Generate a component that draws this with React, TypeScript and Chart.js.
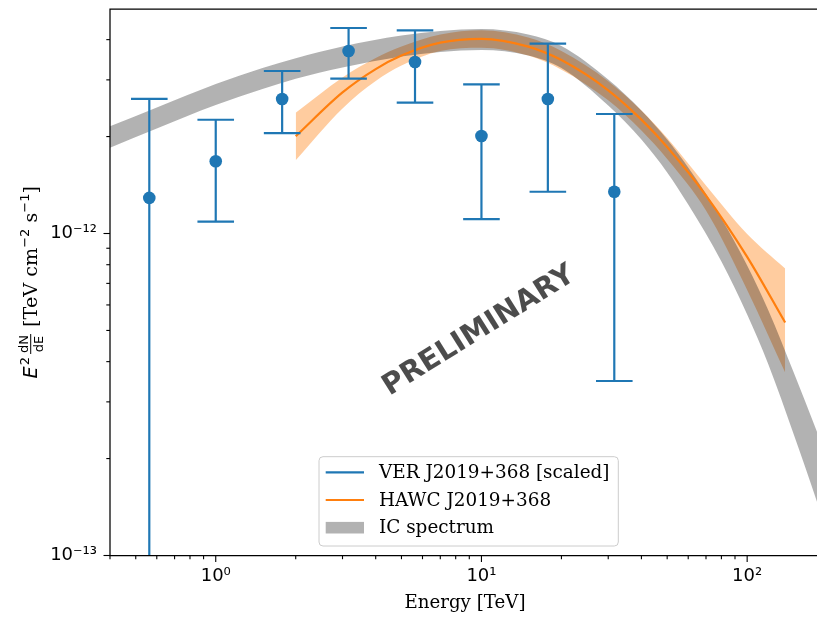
import React, { useEffect, useRef } from "react";
import { Chart, registerables } from "chart.js";

Chart.register(...registerables);

// ---- VER J2019+368 [scaled] data points (TeV, TeV cm^-2 s^-1)
const verEnergy = [0.5623, 1.0, 1.778, 3.162, 5.623, 10.0, 17.78, 31.62];
const verFlux = [1.29e-12, 1.676e-12, 2.617e-12, 3.688e-12, 3.409e-12, 2.008e-12, 2.617e-12, 1.348e-12];
const verHigh = [2.617e-12, 2.256e-12, 3.196e-12, 4.347e-12, 4.276e-12, 2.907e-12, 3.886e-12, 2.35e-12];
const verLow = [5e-14, 1.088e-12, 2.051e-12, 3.026e-12, 2.549e-12, 1.109e-12, 1.348e-12, 3.483e-13];

// ---- HAWC J2019+368 best fit and band
const hawcEnergy = [2, 3, 4, 5, 7, 10, 15, 20, 30, 40, 50, 70, 100, 139];
const hawcFlux = [2.004e-12, 2.743e-12, 3.241e-12, 3.569e-12, 3.916e-12, 4.024e-12, 3.806e-12, 3.456e-12, 2.785e-12, 2.258e-12, 1.856e-12, 1.312e-12, 8.46e-13, 5.29e-13];
const hawcHigh = [2.371e-12, 3.053e-12, 3.505e-12, 3.806e-12, 4.147e-12, 4.276e-12, 4.059e-12, 3.686e-12, 2.97e-12, 2.408e-12, 1.98e-12, 1.41e-12, 9.96e-13, 7.78e-13];
const hawcLow = [1.688e-12, 2.446e-12, 2.974e-12, 3.322e-12, 3.686e-12, 3.774e-12, 3.569e-12, 3.228e-12, 2.592e-12, 2.087e-12, 1.703e-12, 1.179e-12, 6.68e-13, 3.7e-13];

// ---- IC spectrum band
const icEnergy = [0.4, 0.6, 1, 1.5, 2, 3, 5, 7, 10, 15, 20, 30, 40, 50, 60, 80, 100, 120, 150, 183, 190];
const icHigh = [2.152e-12, 2.462e-12, 2.913e-12, 3.266e-12, 3.503e-12, 3.809e-12, 4.12e-12, 4.255e-12, 4.316e-12, 4.15e-12, 3.823e-12, 3.008e-12, 2.41e-12, 1.958e-12, 1.603e-12, 1.113e-12, 7.955e-13, 5.787e-13, 3.687e-13, 2.427e-13, 2.236e-13];
const icLow = [1.847e-12, 2.119e-12, 2.506e-12, 2.81e-12, 3.023e-12, 3.278e-12, 3.546e-12, 3.662e-12, 3.715e-12, 3.571e-12, 3.266e-12, 2.497e-12, 1.958e-12, 1.547e-12, 1.23e-12, 8.186e-13, 5.603e-13, 3.933e-13, 2.367e-13, 1.471e-13, 1.336e-13];

// ---- axes / labels
const xRange = [0.4, 188];
const yRange = [1e-13, 4.98e-12];
const xMajorTicks = [1, 10, 100];
const xTickLabels = ["10\u2070", "10\u00b9", "10\u00b2"];
const yMajorTicks = [1e-13, 1e-12];
const yTickLabels = ["10\u207b\u00b9\u00b3", "10\u207b\u00b9\u00b2"];
const legendLabels = ["VER J2019+368 [scaled]", "HAWC J2019+368", "IC spectrum"];
const xTitle = "Energy [TeV]";
const watermark = "PRELIMINARY";

const BLUE = "#1f77b4";
const ORANGE = "#ff7f0e";
const SANS = '"DejaVu Sans"';
const SERIF = '"DejaVu Serif"';
const CW = 860;
const CH = 618;

const pts = (xs: number[], ys: number[]) => xs.map((x, i) => ({ x, y: ys[i] }));

const matchLabel = (v: number, ticks: number[], labels: string[]) => {
  const i = ticks.findIndex((t) => Math.abs(Math.log10(t) - Math.log10(v)) < 1e-6);
  return i >= 0 ? labels[i] : "";
};

const drawYLabel = (ctx: CanvasRenderingContext2D, bx: number, cy: number) => {
  const fs = 19.2;
  const fMain = `${fs}px ${SERIF}`;
  const fIt = `italic ${fs}px ${SANS}`;
  const fSup = `${Math.round(fs * 0.7)}px ${SANS}`;
  const fFrac = `${Math.round(fs * 0.7)}px ${SANS}`;
  ctx.save();
  ctx.translate(bx, cy);
  ctx.rotate(-Math.PI / 2);
  ctx.fillStyle = "#000";
  ctx.textBaseline = "alphabetic";
  ctx.textAlign = "left";
  const measure = (t: string, f: string) => {
    ctx.font = f;
    return ctx.measureText(t).width;
  };
  const wE = measure("E", fIt);
  const w2 = measure("2", fSup);
  const wN = measure("dN", fFrac);
  const wD = measure("dE", fFrac);
  const wF = Math.max(wN, wD) + 2;
  const w1 = measure(" [TeV cm", fMain);
  const wm2 = measure("\u22122", fSup);
  const ws = measure(" s", fMain);
  const wm1 = measure("\u22121", fSup);
  const wb = measure("]", fMain);
  const total = wE + 1 + w2 + 3 + wF + 1 + w1 + wm2 + ws + wm1 + wb;
  let u = -total / 2;
  ctx.font = fIt;
  ctx.fillText("E", u, 0);
  u += wE + 1;
  ctx.font = fSup;
  ctx.fillText("2", u, -8.5);
  u += w2 + 3;
  const axis = -6.3;
  ctx.font = fFrac;
  ctx.fillText("dN", u + (wF - wN) / 2, axis - 2.5);
  ctx.fillText("dE", u + (wF - wD) / 2, axis + 12);
  ctx.fillRect(u, axis - 0.5, wF, 1);
  u += wF + 1;
  ctx.font = fMain;
  ctx.fillText(" [TeV cm", u, 0);
  u += w1;
  ctx.font = fSup;
  ctx.fillText("\u22122", u, -8.5);
  u += wm2;
  ctx.font = fMain;
  ctx.fillText(" s", u, 0);
  u += ws;
  ctx.font = fSup;
  ctx.fillText("\u22121", u, -8.5);
  u += wm1;
  ctx.font = fMain;
  ctx.fillText("]", u, 0);
  ctx.restore();
};

const decorPlugin = {
  id: "decor",
  afterDatasetsDraw(chart: any) {
    const { ctx, chartArea: ca, scales } = chart;
    const xs = scales.x;
    const ys = scales.y;
    ctx.save();
    ctx.beginPath();
    ctx.rect(ca.left, ca.top, ca.right - ca.left, ca.bottom - ca.top);
    ctx.clip();
    ctx.strokeStyle = BLUE;
    ctx.lineWidth = 2.2;
    const cap = 18.3;
    verEnergy.forEach((e, i) => {
      const px = xs.getPixelForValue(e);
      const yh = ys.getPixelForValue(verHigh[i]);
      const yl = ys.getPixelForValue(verLow[i]);
      ctx.beginPath();
      ctx.moveTo(px, yh);
      ctx.lineTo(px, yl);
      ctx.moveTo(px - cap, yh);
      ctx.lineTo(px + cap, yh);
      ctx.moveTo(px - cap, yl);
      ctx.lineTo(px + cap, yl);
      ctx.stroke();
    });
    ctx.restore();
  },
  afterDraw(chart: any) {
    const { ctx, chartArea: ca, scales } = chart;
    const xs = scales.x;
    const ys = scales.y;
    ctx.save();
    // watermark
    ctx.save();
    ctx.translate(479, 331);
    ctx.rotate((-32 * Math.PI) / 180);
    ctx.font = `bold 29px ${SANS}`;
    ctx.fillStyle = "rgba(0,0,0,0.7)";
    ctx.textAlign = "center";
    ctx.textBaseline = "middle";
    ctx.fillText(watermark, 0, 0);
    ctx.restore();

    // spines
    ctx.strokeStyle = "#000";
    ctx.lineWidth = 1.25;
    ctx.beginPath();
    ctx.moveTo(ca.left, ca.top);
    ctx.lineTo(ca.right, ca.top);
    ctx.lineTo(ca.right, ca.bottom);
    ctx.lineTo(ca.left, ca.bottom);
    ctx.closePath();
    ctx.stroke();

    // tick marks
    ctx.lineWidth = 1.1;
    for (let d = -1; d <= 2; d++) {
      for (let m = 1; m <= 9; m++) {
        const v = m * Math.pow(10, d);
        if (v < xs.min - 1e-9 || v > xs.max) continue;
        const p = xs.getPixelForValue(v);
        const len = m === 1 ? 6.5 : 3.7;
        ctx.beginPath();
        ctx.moveTo(p, ca.bottom);
        ctx.lineTo(p, ca.bottom + len);
        ctx.stroke();
      }
    }
    for (let d = -13; d <= -12; d++) {
      for (let m = 1; m <= 9; m++) {
        const v = m * Math.pow(10, d);
        if (v < ys.min * 0.999 || v > ys.max) continue;
        const p = ys.getPixelForValue(v);
        const len = m === 1 ? 6.5 : 3.7;
        ctx.beginPath();
        ctx.moveTo(ca.left, p);
        ctx.lineTo(ca.left - len, p);
        ctx.stroke();
      }
    }

    // y label
    drawYLabel(ctx, 37, (ca.top + ca.bottom) / 2);

    // legend
    const lx = 319, ly = 456.7, lw = 299.3, lh = 89.3;
    ctx.beginPath();
    ctx.roundRect(lx, ly, lw, lh, 4);
    ctx.fillStyle = "rgba(255,255,255,0.8)";
    ctx.fill();
    ctx.strokeStyle = "#cccccc";
    ctx.lineWidth = 1;
    ctx.stroke();
    const rows = [472.3, 500, 527.7];
    ctx.lineWidth = 2.2;
    ctx.strokeStyle = BLUE;
    ctx.beginPath();
    ctx.moveTo(325.7, rows[0]);
    ctx.lineTo(364, rows[0]);
    ctx.stroke();
    ctx.strokeStyle = ORANGE;
    ctx.beginPath();
    ctx.moveTo(325.7, rows[1]);
    ctx.lineTo(364, rows[1]);
    ctx.stroke();
    ctx.fillStyle = "rgba(0,0,0,0.3)";
    ctx.fillRect(325.7, rows[2] - 5.8, 38.3, 11.6);
    ctx.fillStyle = "#000";
    ctx.font = `18.4px ${SERIF}`;
    ctx.textAlign = "left";
    ctx.textBaseline = "middle";
    legendLabels.forEach((t, i) => ctx.fillText(t, 379, rows[i] + 1));
    ctx.restore();
  },
};

export default function App() {
  const ref = useRef<HTMLCanvasElement>(null);
  useEffect(() => {
    const canvas = ref.current;
    if (!canvas) return;
    const band = { showLine: true, pointRadius: 0, borderWidth: 0, borderColor: "rgba(0,0,0,0)", cubicInterpolationMode: "monotone" as const };
    const chart = new Chart(canvas, {
      type: "scatter",
      data: {
        datasets: [
          { ...band, label: "hawcHigh", data: pts(hawcEnergy, hawcHigh), fill: false, order: 10 },
          { ...band, label: "hawcLow", data: pts(hawcEnergy, hawcLow), fill: "-1", backgroundColor: "rgba(255,127,14,0.4)", order: 9 },
          { ...band, label: "icHigh", data: pts(icEnergy, icHigh), fill: false, order: 8 },
          { ...band, label: "icLow", data: pts(icEnergy, icLow), fill: "-1", backgroundColor: "rgba(0,0,0,0.3)", order: 7 },
          {
            label: legendLabels[1],
            data: pts(hawcEnergy, hawcFlux),
            showLine: true,
            pointRadius: 0,
            borderColor: ORANGE,
            borderWidth: 2.2,
            fill: false,
            cubicInterpolationMode: "monotone",
            order: 5,
          },
          {
            label: legendLabels[0],
            data: pts(verEnergy, verFlux),
            showLine: false,
            pointRadius: 6.3,
            pointBackgroundColor: BLUE,
            pointBorderWidth: 0,
            pointBorderColor: BLUE,
            order: 1,
          },
        ],
      },
      options: {
        animation: false,
        responsive: false,
        maintainAspectRatio: false,
        events: [],
        layout: { padding: { top: 9, right: CW - 820, left: 0, bottom: 0 } },
        plugins: { legend: { display: false }, tooltip: { enabled: false } },
        scales: {
          x: {
            type: "logarithmic",
            position: "bottom",
            min: xRange[0],
            max: xRange[1],
            afterFit: (s: any) => {
              s.height = 62.5;
            },
            afterBuildTicks: (s: any) => {
              s.ticks = xMajorTicks.map((v) => ({ value: v }));
            },
            ticks: {
              autoSkip: false,
              maxRotation: 0,
              color: "#000",
              padding: 11,
              font: { family: "DejaVu Sans", size: 18, lineHeight: 1.1 },
              callback: (v: any) => matchLabel(Number(v), xMajorTicks, xTickLabels),
            },
            grid: { display: false, drawTicks: false },
            border: { display: false },
            title: {
              display: true,
              text: xTitle,
              color: "#000",
              font: { family: "DejaVu Serif", size: 18.2 },
              padding: { top: 0, bottom: 4 },
            },
          },
          y: {
            type: "logarithmic",
            position: "left",
            min: yRange[0],
            max: yRange[1],
            afterFit: (s: any) => {
              s.width = 110;
            },
            afterBuildTicks: (s: any) => {
              s.ticks = yMajorTicks.map((v) => ({ value: v }));
            },
            ticks: {
              autoSkip: false,
              color: "#000",
              padding: 0,
              font: { family: "DejaVu Sans", size: 18, lineHeight: 0.9 },
              callback: (v: any) => matchLabel(Number(v), yMajorTicks, yTickLabels),
            },
            grid: {
              display: true,
              drawOnChartArea: false,
              drawTicks: true,
              tickLength: 13,
              tickColor: "rgba(0,0,0,0)",
              color: "rgba(0,0,0,0)",
            },
            border: { display: false },
          },
        },
      },
      plugins: [decorPlugin],
    } as any);
    return () => chart.destroy();
  }, []);
  return (
    <div style={{ position: "fixed", left: 0, top: 0, width: 817, height: 618, overflow: "hidden", background: "#fff" }}>
      <canvas ref={ref} width={CW} height={CH} style={{ display: "block", width: CW, height: CH }} />
    </div>
  );
}
